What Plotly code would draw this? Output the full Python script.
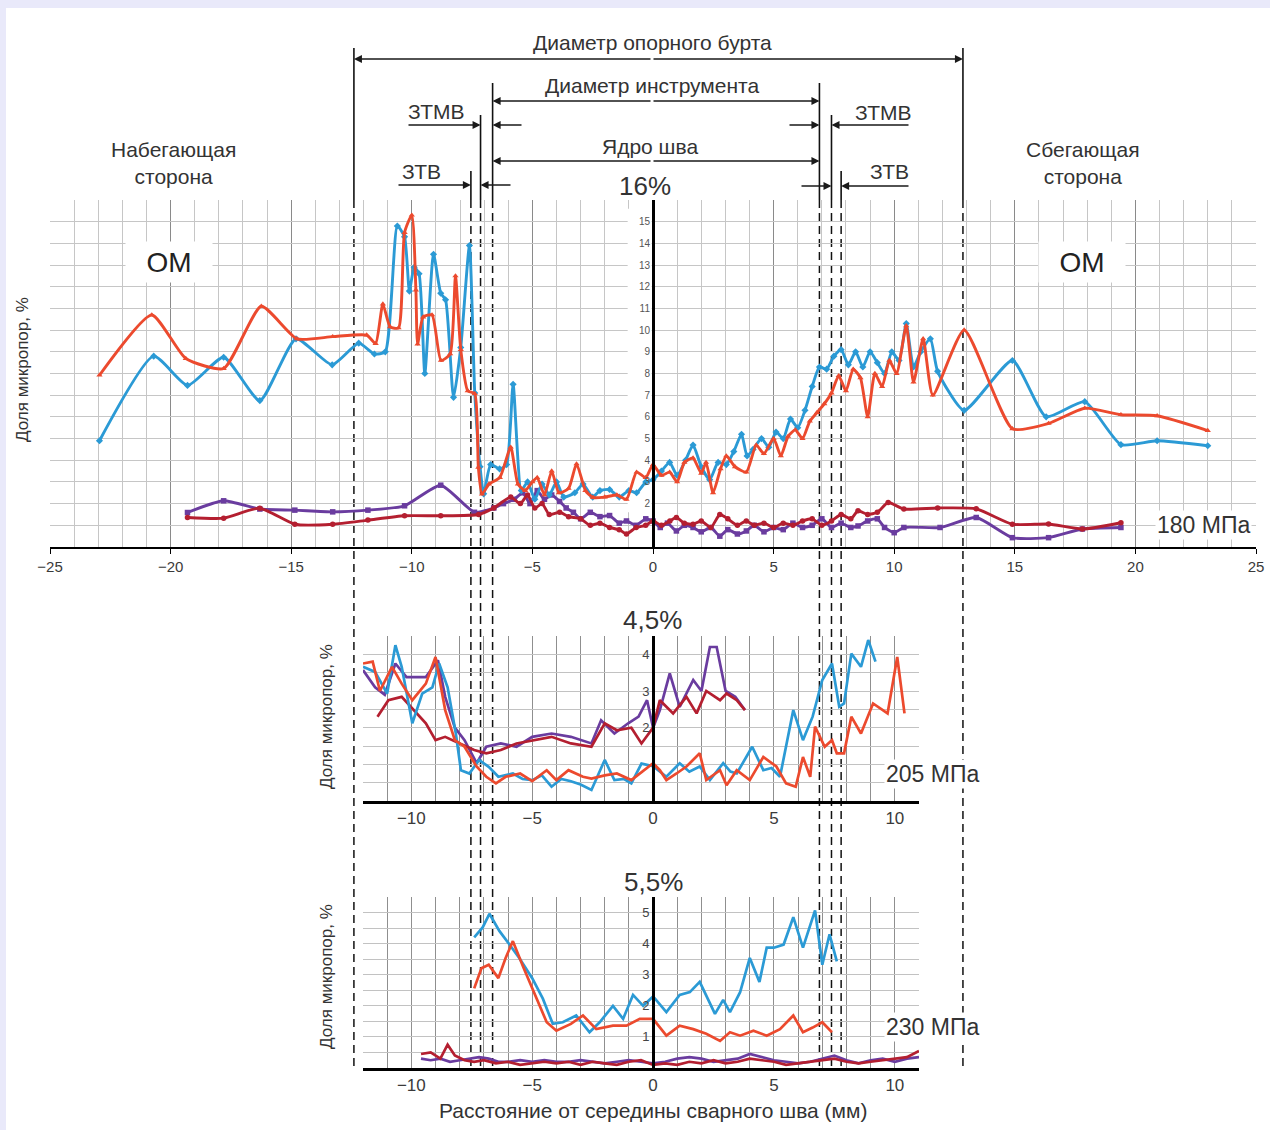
import plotly.graph_objects as go

W, H = 1270, 1130
FONT = "Liberation Sans"

# ---------------- DATA ----------------
# zone boundaries (mm): bushing, HAZ, TMAZ, tool  (left ... right)
zone_mm = [-12.4, -7.55, -7.15, -6.65, 6.9, 7.4, 7.8, 12.85]

# main panel, 180 MPa (%)
mb_x = [-22.95, -20.7, -19.3, -17.8, -16.3, -14.8, -13.3, -12.2, -11.55, -11.1, -10.6, -10.3, -10.1, -9.9, -9.7,
        -9.46, -9.1, -8.8, -8.6, -8.27, -7.97, -7.61, -7.39, -7.17, -7.02, -6.73, -6.36, -6.07, -5.8, -5.46,
        -5.2, -4.9, -4.6, -4.3, -4.0, -3.7, -3.24, -2.9, -2.5, -2.2, -1.8, -1.4, -1.0, -0.68, -0.3,
        0.0, 0.35, 0.69, 1.0, 1.35, 1.66, 2.0, 2.35, 2.7, 3.04, 3.35, 3.67, 3.9, 4.15, 4.5,
        4.8, 5.1, 5.4, 5.7, 6.0, 6.3, 6.6, 6.9, 7.2, 7.5, 7.8, 8.1, 8.4, 8.7, 9.0,
        9.3, 9.6, 9.9, 10.2, 10.5, 10.8, 11.1, 11.5, 11.8, 12.9, 14.9, 16.3, 17.9, 19.4, 20.9, 23.0]
mb_y = [4.9, 8.8, 7.45, 8.75, 6.75, 9.6, 8.4, 9.4, 8.9, 9.0, 14.8, 14.3, 11.8, 12.9, 12.6,
        8.0, 13.5, 11.7, 11.4, 6.9, 9.2, 13.9, 7.1, 3.7, 2.45, 3.8, 3.6, 3.8, 7.5, 2.6,
        3.0, 2.2, 2.9, 2.4, 3.0, 2.3, 2.5, 2.9, 2.3, 2.6, 2.65, 2.3, 2.6, 2.5, 3.0,
        3.1, 3.5, 3.9, 3.3, 4.0, 4.7, 3.7, 3.1, 3.9, 3.8, 4.4, 5.2, 4.2, 4.5, 5.0,
        4.6, 5.3, 5.0, 5.9, 5.5, 6.3, 7.4, 8.3, 8.2, 8.8, 9.1, 8.4, 9.0, 8.3, 9.0,
        8.5, 8.0, 9.0, 8.6, 10.3, 8.3, 9.0, 9.6, 8.1, 6.3, 8.6, 6.0, 6.7, 4.72, 4.9, 4.67]

mr_x = [-22.95, -20.78, -19.37, -17.8, -16.24, -14.76, -13.28, -11.87, -11.5, -11.2, -10.9, -10.55, -10.3, -10.0, -9.83,
        -9.76, -9.53, -9.16, -8.79, -8.41, -8.19, -7.97, -7.68, -7.39, -7.24, -7.09, -6.8, -6.35, -5.9, -5.6,
        -5.3, -5.0, -4.8, -4.5, -4.2, -3.9, -3.5, -3.17, -2.8, -2.48, -2.0, -1.5, -1.1, -0.68, -0.3,
        0.0, 0.35, 0.69, 1.0, 1.3, 1.66, 2.0, 2.2, 2.49, 2.8, 3.04, 3.4, 3.87, 4.28, 4.6,
        5.0, 5.3, 5.6, 5.9, 6.2, 6.5, 6.8, 7.1, 7.4, 7.7, 8.0, 8.3, 8.6, 8.9, 9.2,
        9.5, 9.8, 10.1, 10.5, 10.8, 11.2, 11.6, 12.9, 14.9, 16.4, 17.9, 19.4, 20.9, 23.0]
mr_y = [7.92, 10.7, 8.69, 8.23, 11.1, 9.6, 9.7, 9.77, 9.38, 11.2, 10.15, 10.1, 14.5, 15.3, 11.85,
        9.36, 10.6, 10.7, 8.6, 8.9, 12.5, 9.1, 7.2, 7.07, 3.67, 2.44, 2.9, 3.2, 4.6, 2.9,
        2.6, 3.0, 3.2, 2.4, 3.5, 2.5, 2.7, 3.83, 2.6, 2.28, 2.3, 2.4, 2.2, 3.45, 3.2,
        3.8, 3.3, 3.45, 3.0, 3.9, 4.1, 3.4, 3.9, 2.5, 3.6, 4.2, 3.7, 3.45, 4.7, 4.3,
        5.0, 4.2, 5.1, 5.4, 5.0, 5.8, 6.2, 6.6, 7.1, 7.9, 7.2, 8.2, 7.8, 6.0, 8.0,
        7.4, 8.6, 8.0, 10.2, 7.6, 9.6, 7.0, 10.0, 5.45, 5.7, 6.4, 6.1, 6.05, 5.37]

mp_x = [-19.3, -17.8, -16.3, -14.85, -13.28, -11.82, -10.3, -8.8, -7.4, -6.6, -6.2, -5.75, -5.4, -5.1, -4.8,
        -4.5, -4.2, -3.87, -3.6, -3.3, -3.0, -2.6, -2.2, -1.8, -1.4, -1.1, -0.7, -0.3, 0.0, 0.3,
        0.6, 0.97, 1.3, 1.66, 2.0, 2.4, 2.77, 3.1, 3.5, 3.87, 4.2, 4.6, 5.0, 5.4, 5.8,
        6.2, 6.6, 7.0, 7.4, 7.8, 8.2, 8.5, 8.9, 9.3, 9.6, 10.0, 10.4, 11.9, 13.4, 14.9,
        16.4, 17.8, 19.4]
mp_y = [1.59, 2.13, 1.75, 1.7, 1.62, 1.7, 1.9, 2.85, 1.6, 1.8, 2.0, 2.2, 2.5, 2.0, 2.6,
        2.2, 2.4, 2.1, 1.8, 1.6, 1.3, 1.6, 1.4, 1.45, 1.1, 1.2, 1.0, 1.3, 1.2, 0.9,
        1.1, 0.74, 1.0, 0.9, 0.7, 0.9, 0.5, 0.8, 0.6, 0.74, 1.0, 0.7, 0.9, 0.8, 1.1,
        0.9, 1.0, 1.3, 0.9, 1.1, 0.9, 0.97, 1.2, 1.3, 0.9, 0.66, 0.9, 0.9, 1.36, 0.43,
        0.43, 0.83, 0.9]

md_x = [-19.3, -17.8, -16.3, -14.85, -13.28, -11.82, -10.3, -8.8, -7.23, -6.6, -5.9, -5.5, -5.2, -4.9, -4.6,
        -4.3, -3.87, -3.5, -3.0, -2.6, -2.2, -1.8, -1.4, -1.1, -0.7, -0.3, 0.0, 0.35, 0.7, 0.97,
        1.3, 1.66, 2.0, 2.4, 2.77, 3.1, 3.5, 3.87, 4.2, 4.6, 5.0, 5.4, 5.8, 6.2, 6.6,
        7.0, 7.4, 7.8, 8.2, 8.5, 8.9, 9.3, 9.75, 10.4, 11.8, 13.4, 14.9, 16.4, 17.8, 19.4]
md_y = [1.36, 1.33, 1.79, 1.05, 1.05, 1.24, 1.44, 1.44, 1.5, 1.8, 2.3, 2.0, 2.4, 1.8, 2.0,
        1.5, 1.6, 1.4, 1.3, 1.0, 1.1, 0.9, 0.8, 0.6, 0.9, 1.0, 1.2, 1.0, 1.2, 1.36,
        1.1, 1.05, 1.2, 0.9, 1.5, 1.3, 1.0, 1.2, 1.0, 1.1, 0.9, 1.1, 1.0, 1.2, 1.3,
        1.0, 1.2, 1.5, 1.3, 1.67, 1.5, 1.6, 2.05, 1.75, 1.8, 1.76, 1.05, 1.06, 0.83, 1.12]

# sub panel 1, 205 MPa (%)
s1b_x = [-12.0, -11.5, -11.0, -10.66, -10.4, -9.96, -9.55, -9.13, -8.85, -8.5, -8.16, -7.95, -7.6, -7.2, -6.8,
         -6.4, -5.8, -5.4, -5.0, -4.6, -4.2, -3.8, -3.4, -3.0, -2.55, -2.0, -1.6, -1.2, -0.9, -0.48,
         0.0, 0.55, 1.1, 1.5, 1.93, 2.35, 2.9, 3.2, 3.46, 4.1, 4.56, 4.9, 5.25, 5.8, 6.2,
         6.6, 7.0, 7.4, 7.7, 7.9, 8.2, 8.6, 8.9, 9.2]
s1b_y = [3.66, 3.52, 2.93, 4.25, 3.66, 2.12, 2.93, 3.1, 3.75, 3.1, 1.84, 0.84, 0.75, 1.12, 0.93,
         0.66, 0.75, 0.6, 0.57, 0.7, 0.39, 0.6, 0.54, 0.45, 0.3, 1.12, 0.57, 0.6, 0.48, 1.02,
         0.95, 0.66, 1.03, 0.8, 0.94, 0.57, 1.03, 0.8, 0.75, 1.48, 0.84, 0.9, 0.66, 2.48, 1.66,
         2.3, 3.3, 3.75, 2.57, 2.66, 4.02, 3.66, 4.39, 3.8]
s1r_x = [-12.0, -11.6, -11.3, -10.8, -10.4, -9.96, -9.4, -9.0, -8.6, -8.2, -7.8, -7.3, -6.9, -6.5, -6.1,
         -5.5, -5.0, -4.4, -4.0, -3.5, -2.9, -2.55, -2.0, -1.5, -0.9, -0.35, 0.0, 0.28, 0.55, 0.97,
         1.38, 1.93, 2.2, 2.77, 3.04, 3.46, 4.0, 4.56, 5.1, 5.5, 5.9, 6.2, 6.5, 6.7, 7.1,
         7.4, 7.6, 7.9, 8.2, 8.6, 9.1, 9.7, 10.1, 10.4]
s1r_y = [3.75, 3.8, 3.0, 3.66, 3.2, 2.75, 3.2, 3.93, 2.48, 1.66, 1.48, 0.94, 0.66, 0.48, 0.66,
         0.75, 0.54, 0.84, 0.57, 0.84, 0.66, 0.61, 0.7, 0.75, 0.57, 0.84, 1.03, 0.84, 0.57, 0.75,
         0.94, 1.3, 0.57, 0.84, 0.43, 0.84, 0.57, 1.2, 0.94, 0.48, 0.39, 1.2, 0.66, 2.03, 1.48,
         1.66, 1.3, 1.3, 2.3, 1.84, 2.66, 2.39, 3.93, 2.39]
s1p_x = [-12.0, -11.5, -11.1, -10.66, -10.2, -9.8, -9.4, -8.9, -8.6, -8.2, -7.8, -7.3, -6.9, -6.3, -5.65,
         -5.0, -4.2, -3.4, -2.55, -2.15, -1.6, -1.03, -0.6, -0.25, 0.0, 0.28, 0.69, 1.1, 1.66, 2.0,
         2.35, 2.63, 3.0, 3.4, 3.8]
s1p_y = [3.57, 3.1, 2.9, 3.75, 3.38, 3.38, 3.38, 3.84, 2.84, 2.0, 1.66, 1.03, 1.48, 1.57, 1.48,
         1.75, 1.84, 1.75, 1.57, 2.2, 1.84, 2.12, 2.3, 2.75, 2.0, 2.48, 3.48, 2.57, 3.3, 3.0,
         4.2, 4.2, 3.0, 2.84, 2.48]
s1d_x = [-11.4, -10.95, -10.4, -9.8, -9.4, -9.0, -8.6, -8.0, -7.4, -6.9, -6.3, -5.65, -5.0, -4.2, -3.4,
         -2.55, -2.0, -1.5, -0.9, -0.48, 0.0, 0.28, 0.83, 1.38, 1.8, 2.2, 2.77, 3.04, 3.46, 3.8]
s1d_y = [2.3, 2.75, 2.84, 2.39, 2.12, 1.66, 1.75, 1.57, 1.39, 1.3, 1.39, 1.57, 1.66, 1.75, 1.57,
         1.48, 2.12, 1.93, 2.0, 1.57, 2.0, 2.75, 2.39, 2.84, 2.39, 3.0, 2.75, 2.93, 2.75, 2.48]

# sub panel 2, 230 MPa (%)
s2b_x = [-7.4, -7.05, -6.77, -6.36, -5.94, -5.53, -5.0, -4.56, -4.15, -3.74, -3.18, -2.63, -2.21, -1.66, -1.24,
         -0.83, -0.41, 0.0, 0.55, 1.1, 1.52, 1.93, 2.56, 2.9, 3.18, 3.6, 4.0, 4.4, 4.7, 5.0,
         5.4, 5.8, 6.2, 6.7, 7.0, 7.3, 7.6]
s2b_y = [4.2, 4.52, 4.96, 4.41, 3.97, 3.53, 2.89, 2.23, 1.42, 1.47, 1.69, 1.15, 1.47, 2.0, 1.58,
         2.35, 2.0, 2.3, 1.8, 2.35, 2.44, 2.77, 1.74, 2.19, 1.8, 2.44, 3.54, 2.77, 3.87, 3.87,
         3.97, 4.85, 3.87, 5.07, 3.32, 4.3, 3.43]
s2r_x = [-7.4, -7.1, -6.8, -6.4, -6.1, -5.8, -5.35, -5.0, -4.4, -4.0, -3.4, -2.9, -2.35, -1.66, -1.1,
         -0.55, 0.0, 0.55, 1.1, 1.66, 2.2, 2.77, 3.18, 3.6, 4.15, 4.7, 5.25, 5.8, 6.2, 6.6,
         7.0, 7.4]
s2r_y = [2.56, 3.21, 3.32, 2.89, 3.54, 4.08, 3.21, 2.56, 1.47, 1.2, 1.42, 1.69, 1.25, 1.36, 1.36,
         1.58, 1.58, 1.04, 1.36, 1.25, 1.1, 0.87, 1.15, 1.04, 1.2, 1.04, 1.25, 1.69, 1.15, 1.3,
         1.47, 1.15]
s2p_x = [-9.6, -9.2, -8.8, -8.4, -8.0, -7.6, -7.2, -6.8, -6.4, -6.0, -5.5, -5.0, -4.5, -4.0, -3.5,
         -3.0, -2.5, -2.0, -1.5, -1.0, -0.5, 0.0, 0.5, 1.0, 1.5, 2.0, 2.5, 3.0, 3.5, 4.0,
         4.5, 5.0, 5.5, 6.0, 6.5, 7.0, 7.5, 8.0, 8.5, 9.0, 9.5, 10.0, 10.5, 11.0]
s2p_y = [0.3, 0.25, 0.3, 0.2, 0.25, 0.3, 0.35, 0.3, 0.2, 0.2, 0.25, 0.2, 0.25, 0.2, 0.2,
         0.25, 0.2, 0.15, 0.2, 0.25, 0.2, 0.15, 0.2, 0.3, 0.35, 0.3, 0.2, 0.25, 0.3, 0.45,
         0.35, 0.25, 0.2, 0.15, 0.2, 0.3, 0.4, 0.25, 0.15, 0.25, 0.3, 0.2, 0.3, 0.35]
s2d_x = [-9.6, -9.2, -8.8, -8.5, -8.2, -7.8, -7.4, -7.0, -6.5, -6.0, -5.5, -5.0, -4.5, -4.0, -3.5,
         -3.0, -2.5, -2.0, -1.5, -1.0, -0.5, 0.0, 0.5, 1.0, 1.5, 2.0, 2.5, 3.0, 3.5, 4.0,
         4.5, 5.0, 5.5, 6.0, 6.5, 7.0, 7.5, 8.0, 8.5, 9.0, 9.5, 10.0, 10.5, 11.0]
s2d_y = [0.45, 0.5, 0.3, 0.75, 0.4, 0.25, 0.2, 0.25, 0.15, 0.2, 0.1, 0.15, 0.2, 0.15, 0.2,
         0.1, 0.2, 0.15, 0.1, 0.2, 0.25, 0.1, 0.15, 0.1, 0.2, 0.15, 0.25, 0.15, 0.2, 0.3,
         0.25, 0.2, 0.1, 0.15, 0.2, 0.25, 0.3, 0.2, 0.15, 0.2, 0.25, 0.3, 0.35, 0.55]

main_ticks_x = [-25, -20, -15, -10, -5, 0, 5, 10, 15, 20, 25]
sub_ticks_x = [-10, -5, 0, 5, 10]

for a, b in [(mb_x, mb_y), (mr_x, mr_y), (mp_x, mp_y), (md_x, md_y), (s1b_x, s1b_y), (s1r_x, s1r_y),
             (s1p_x, s1p_y), (s1d_x, s1d_y), (s2b_x, s2b_y), (s2r_x, s2r_y), (s2p_x, s2p_y), (s2d_x, s2d_y)]:
    assert len(a) == len(b), (len(a), len(b), a[0])

# ---------------- STYLE / LAYOUT ----------------
BLUE, RED, PURPLE, DRED = "#2b9ad5", "#ec4a2e", "#6a3c9f", "#b41f30"
MAIN_PX = (50, 1256)
MAIN_PY = (200, 547)
SUB_PX = (363, 919)
SUB1_PY = (636, 801)
SUB2_PY = (897, 1068)
MAIN_RANGE = (-25, 25)


def px(x):
    return x / W


def py(y):
    return 1 - y / H


def mm2px(mm):
    return MAIN_PX[0] + (mm - MAIN_RANGE[0]) / (MAIN_RANGE[1] - MAIN_RANGE[0]) * (MAIN_PX[1] - MAIN_PX[0])


fig = go.Figure()


def add_main(x, y, color, symbol):
    fig.add_trace(go.Scatter(x=x, y=y, mode="lines+markers", xaxis="x", yaxis="y",
                             line=dict(color=color, width=2.9, shape="spline", smoothing=0.55),
                             marker=dict(color=color, size=5.5, symbol=symbol), showlegend=False))


add_main(mp_x, mp_y, PURPLE, "square")
add_main(md_x, md_y, DRED, "circle")
add_main(mb_x, mb_y, BLUE, "diamond")
add_main(mr_x, mr_y, RED, "triangle-up")


def add_sub(x, y, color, ax):
    fig.add_trace(go.Scatter(x=x, y=y, mode="lines", xaxis="x" + ax, yaxis="y" + ax,
                             line=dict(color=color, width=2.7), showlegend=False))


add_sub(s1p_x, s1p_y, PURPLE, "2")
add_sub(s1d_x, s1d_y, DRED, "2")
add_sub(s1b_x, s1b_y, BLUE, "2")
add_sub(s1r_x, s1r_y, RED, "2")
add_sub(s2p_x, s2p_y, PURPLE, "3")
add_sub(s2d_x, s2d_y, DRED, "3")
add_sub(s2b_x, s2b_y, BLUE, "3")
add_sub(s2r_x, s2r_y, RED, "3")

xpos0 = px(653)

main_yvals = list(range(0, 17))
main_ytext = ["" if v in (0, 1, 16) else str(v) for v in main_yvals]
s1_yvals = [i * 0.5 for i in range(10)]
s1_ytext = [str(int(v)) if v in (2, 3, 4) else "" for v in s1_yvals]
s2_yvals = [i * 0.5 for i in range(12)]
s2_ytext = [str(int(v)) if v in (1, 2, 3, 4, 5) else "" for v in s2_yvals]

fig.update_layout(
    width=W, height=H, autosize=False, margin=dict(l=0, r=0, t=0, b=0, pad=0, autoexpand=False),
    paper_bgcolor="#e9e9fa", plot_bgcolor="white",
    font=dict(family=FONT, color="#333"),
    xaxis=dict(domain=[px(MAIN_PX[0]), px(MAIN_PX[1])], range=list(MAIN_RANGE), anchor="y", automargin=False,
               tickvals=main_ticks_x, showline=True, linecolor="black", linewidth=2, zeroline=False,
               ticks="outside", tickcolor="black", ticklen=5, tickwidth=1.4,
               tickfont=dict(family=FONT, size=15, color="#3a3a3a"),
               showgrid=True, gridcolor="#8a8a8a", gridwidth=1.2,
               minor=dict(dtick=1, showgrid=True, gridcolor="#c6c6c6", gridwidth=1), fixedrange=True),
    yaxis=dict(domain=[py(MAIN_PY[1]), py(MAIN_PY[0])], range=[0, 16], anchor="free", position=xpos0,
               automargin=False,
               tickvals=main_yvals, ticktext=main_ytext, showgrid=True, gridcolor="#c6c6c6",
               showline=True, linecolor="black", linewidth=3, zeroline=False, ticks="",
               tickfont=dict(family=FONT, size=10, color="#555"), fixedrange=True),
    xaxis2=dict(domain=[px(SUB_PX[0]), px(SUB_PX[1])], range=[-12, 11], anchor="y2", automargin=False,
                tickvals=sub_ticks_x, showline=True, linecolor="black", linewidth=3, zeroline=False,
                ticks="", tickfont=dict(family=FONT, size=17, color="#3a3a3a"),
                showgrid=True, gridcolor="#8f8f8f", gridwidth=1.2,
                minor=dict(dtick=1, showgrid=True, gridcolor="#8f8f8f", gridwidth=1.2), fixedrange=True),
    yaxis2=dict(domain=[py(SUB1_PY[1]), py(SUB1_PY[0])], range=[0, 4.5], anchor="free", position=xpos0,
                automargin=False,
                tickvals=s1_yvals, ticktext=s1_ytext, showgrid=True, gridcolor="#c2c2c2",
                showline=True, linecolor="black", linewidth=3, zeroline=False, ticks="",
                tickfont=dict(family=FONT, size=13, color="#444"), fixedrange=True),
    xaxis3=dict(domain=[px(SUB_PX[0]), px(SUB_PX[1])], range=[-12, 11], anchor="y3", automargin=False,
                tickvals=sub_ticks_x, showline=True, linecolor="black", linewidth=3, zeroline=False,
                ticks="", tickfont=dict(family=FONT, size=17, color="#3a3a3a"),
                showgrid=True, gridcolor="#8f8f8f", gridwidth=1.2,
                minor=dict(dtick=1, showgrid=True, gridcolor="#8f8f8f", gridwidth=1.2), fixedrange=True),
    yaxis3=dict(domain=[py(SUB2_PY[1]), py(SUB2_PY[0])], range=[0, 5.5], anchor="free", position=xpos0,
                automargin=False,
                tickvals=s2_yvals, ticktext=s2_ytext, showgrid=True, gridcolor="#c2c2c2",
                showline=True, linecolor="black", linewidth=3, zeroline=False, ticks="",
                tickfont=dict(family=FONT, size=13, color="#444"), fixedrange=True),
)

shapes = []
# white page over lavender frame
shapes.append(dict(type="rect", xref="paper", yref="paper", x0=px(6), x1=1, y0=0, y1=py(8),
                   fillcolor="white", line=dict(width=0), layer="below"))
# white strip behind main y tick labels
shapes.append(dict(type="rect", xref="x", yref="y", x0=-1.05, x1=-0.06, y0=1.6, y1=15.6,
                   fillcolor="white", line=dict(width=0), layer="between"))

# zone boundary lines: solid above plot, dashed through all panels
line_tops = [48, 171, 115, 83, 83, 115, 171, 48]
for mm, top in zip(zone_mm, line_tops):
    xp = px(mm2px(mm))
    shapes.append(dict(type="line", xref="paper", yref="paper", x0=xp, x1=xp, y0=py(top), y1=py(MAIN_PY[0]),
                       line=dict(color="#111", width=1.6), layer="above"))
    shapes.append(dict(type="line", xref="paper", yref="paper", x0=xp, x1=xp, y0=py(MAIN_PY[0]), y1=py(1068),
                       line=dict(color="#111", width=1.5, dash="8px,5px"), layer="below"))
fig.update_layout(shapes=shapes)

ann = []


def txt(s, x, y, size, color="#333", **kw):
    ann.append(dict(text=s, x=px(x), y=py(y), xref="paper", yref="paper", showarrow=False,
                    font=dict(family=FONT, size=size, color=color), xanchor="center", yanchor="middle", **kw))


def arrow(head_x, tail_x, y):
    ann.append(dict(text="", x=px(head_x), y=py(y), xref="paper", yref="paper", showarrow=True,
                    ax=tail_x - head_x, ay=0, axref="pixel", ayref="pixel", arrowhead=2, arrowsize=1.0,
                    arrowwidth=1.6, arrowcolor="#1a1a1a", standoff=0, startstandoff=0))


L_bush, L_haz, L_tmaz, L_tool, R_tool, R_tmaz, R_haz, R_bush = [mm2px(v) for v in zone_mm]
arrow(L_bush, 652, 59)
arrow(R_bush, 652, 59)
arrow(L_tool, 652, 101)
arrow(R_tool, 652, 101)
arrow(L_tool, 652, 161)
arrow(R_tool, 652, 161)
arrow(L_tmaz, 407, 125)
arrow(L_tool, 523, 125)
arrow(L_haz, 397, 185)
arrow(L_tmaz, 512, 185)
arrow(R_tool, 788, 125)
arrow(R_tmaz, 910, 125)
arrow(R_tmaz, 800, 186)
arrow(R_haz, 910, 186)

txt("Диаметр опорного бурта", 652, 43, 21)
txt("Диаметр инструмента", 652, 85, 21)
txt("Ядро шва", 650, 146, 21)
txt("ЗТМВ", 436, 111, 21)
txt("ЗТВ", 421, 172, 21)
txt("ЗТМВ", 883, 113, 21)
txt("ЗТВ", 889, 172, 21)
txt("Набегающая<br>сторона", 173, 163, 21)
txt("Сбегающая<br>сторона", 1083, 163, 21)
txt("ОМ", 169, 262, 28, color="#222", bgcolor="white", width=84, height=38)
txt("ОМ", 1082, 262, 28, color="#222", bgcolor="white", width=84, height=38)
txt("16%", 645, 186, 26, color="#333")
txt("4,5%", 652, 620, 26, color="#333")
txt("5,5%", 654, 882, 26, color="#333")
txt("180 МПа", 1203, 525, 23, color="#333", bgcolor="white")
txt("205 МПа", 932, 774, 23, color="#333", bgcolor="white")
txt("230 МПа", 932, 1027, 23, color="#333", bgcolor="white")
txt("Доля микропор, %", 22, 370, 17, textangle=-90)
txt("Доля микропор, %", 326, 717, 17, textangle=-90)
txt("Доля микропор, %", 326, 977, 17, textangle=-90)
txt("Расстояние от середины сварного шва (мм)", 653, 1110, 21)
fig.update_layout(annotations=ann)

fig.write_html("out.html", config={"responsive": False, "displayModeBar": False},
               post_script="document.body.style.margin='0';document.body.style.overflow='hidden';")
